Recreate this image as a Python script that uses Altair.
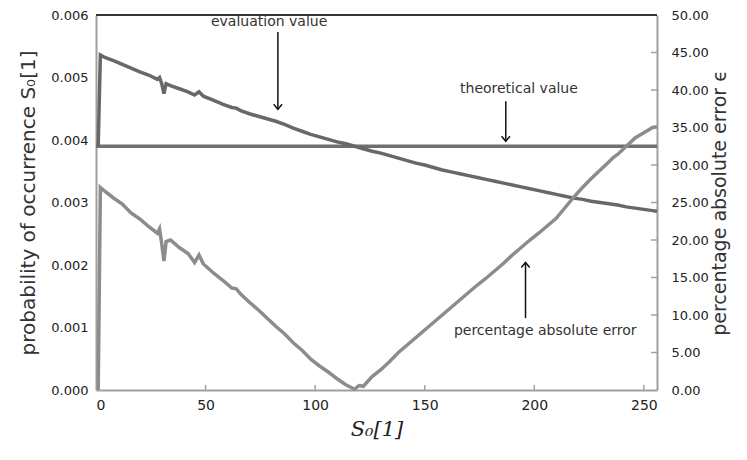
import altair as alt
import pandas as pd

# ---- data ----
eval_x = [1, 2, 4, 8, 12, 16, 20, 24, 28, 29, 30, 31, 32, 34, 38, 42, 45, 47, 49, 54, 58, 62, 64, 66,
          70, 74, 78, 82, 86, 90, 94, 98, 102, 106, 110, 114, 118, 122, 126, 130, 134, 138, 142, 146,
          150, 154, 158, 162, 166, 170, 174, 178, 182, 186, 190, 194, 198, 202, 206, 210, 214, 218,
          222, 226, 230, 234, 238, 242, 246, 250, 254, 256]
eval_v = [0.00390, 0.00536, 0.00532, 0.00527, 0.00521, 0.00515, 0.00509, 0.00504, 0.00497, 0.00500,
          0.00490, 0.00474, 0.00490, 0.00487, 0.00482, 0.00477, 0.00472, 0.00477, 0.00470, 0.00463,
          0.00457, 0.00452, 0.00451, 0.00447, 0.00442, 0.00438, 0.00434, 0.00430, 0.00425, 0.00419,
          0.00414, 0.00409, 0.00405, 0.00401, 0.00397, 0.00394, 0.00390, 0.00386, 0.00382, 0.00379,
          0.00375, 0.00371, 0.00367, 0.00363, 0.00360, 0.00356, 0.00352, 0.00349, 0.00346, 0.00343,
          0.00340, 0.00337, 0.00334, 0.00331, 0.00328, 0.00325, 0.00322, 0.00319, 0.00316, 0.00313,
          0.00310, 0.00307, 0.00305, 0.00302, 0.00300, 0.00298, 0.00296, 0.00293, 0.00291, 0.00289,
          0.00287, 0.00286]

err_x = [1, 2, 4, 8, 12, 16, 20, 24, 28, 29, 30, 31, 32, 34, 38, 42, 45, 47, 49, 54, 58, 62, 64, 66,
         70, 74, 78, 82, 86, 90, 94, 98, 102, 106, 110, 114, 118, 120, 122, 126, 130, 134, 138, 142,
         146, 150, 154, 158, 162, 166, 170, 174, 178, 182, 186, 190, 194, 198, 202, 206, 210, 214,
         218, 222, 226, 230, 234, 236, 238, 242, 246, 250, 254, 256]
err_v = [0.0, 27.0, 26.5, 25.6, 24.8, 23.6, 22.8, 21.8, 20.9, 21.5, 19.5, 17.2, 19.8, 20.0, 19.0, 18.2,
         17.0, 18.0, 16.8, 15.5, 14.6, 13.6, 13.5, 12.8, 11.7, 10.7, 9.6, 8.5, 7.5, 6.3, 5.3, 4.1, 3.2,
         2.4, 1.5, 0.7, 0.1, 0.6, 0.5, 1.8, 2.7, 3.8, 5.0, 6.0, 7.0, 8.0, 9.0, 10.0, 11.0, 12.0, 13.0,
         14.0, 14.9, 15.9, 16.9, 18.0, 19.0, 20.0, 20.9, 21.9, 22.9, 24.3, 25.7, 27.0, 28.2, 29.3, 30.4,
         31.0, 31.4, 32.5, 33.6, 34.3, 35.0, 35.1]

theo_x = [0, 256]
theo_v = [0.0039, 0.0039]

ann_text = ["evaluation value", "theoretical value", "percentage absolute error"]
ann_tx = [79, 193, 205]
ann_ty = [0.00589, 0.00482, 0.00094]
arrow_x = [83, 187, 196]
arrow_from = [0.00573, 0.00462, 0.00115]
arrow_to = [0.00449, 0.00398, 0.00204]
arrow_dir = ["down", "down", "up"]

x_ticks = [0, 50, 100, 150, 200, 250]
left_ticks = [0.000, 0.001, 0.002, 0.003, 0.004, 0.005, 0.006]
right_ticks = [0, 5, 10, 15, 20, 25, 30, 35, 40, 45, 50]

FONT = "DejaVu Sans"
W, H = 561, 375

eval_df = pd.DataFrame({"x": eval_x, "v": eval_v})
err_df = pd.DataFrame({"x": err_x, "e": err_v})
theo_df = pd.DataFrame({"x": theo_x, "v": theo_v})
top_df = pd.DataFrame({"x": [0], "x2": [256], "v": [0.006]})
txt_df = pd.DataFrame({"label": ann_text, "x": ann_tx, "v": ann_ty})
arr_df = pd.DataFrame({"x": arrow_x, "v": arrow_to, "v2": arrow_from, "dir": arrow_dir})
xt_df = pd.DataFrame({"x": x_ticks[1:]})
rt_df = pd.DataFrame({"e": right_ticks[1:-1]})

x_enc = alt.X("x:Q", scale=alt.Scale(domain=[0, 256], nice=False, zero=False),
              axis=alt.Axis(values=x_ticks, title="S₀[1]", titleFontSize=21, titleFont="DejaVu Serif",
                            titleFontStyle="italic", titleFontWeight="normal", titleColor="#222",
                            titlePadding=6, labelFontSize=14, labelFont=FONT, labelColor="#222",
                            labelPadding=8, ticks=False, domainColor="#a0a0a0", domainWidth=2,
                            grid=False))
y_left = alt.Y("v:Q", scale=alt.Scale(domain=[0, 0.006], nice=False),
               axis=alt.Axis(values=left_ticks, format=".3f", title="probability of occurrence S₀[1]",
                             titleFontSize=20, titleFont=FONT, titleFontWeight="normal",
                             titleColor="#333", titlePadding=12, labelFontSize=13, labelFont=FONT,
                             labelColor="#222", labelPadding=8, ticks=False, domainColor="#a0a0a0",
                             domainWidth=2, grid=False))
y_right = alt.Y("e:Q", scale=alt.Scale(domain=[0, 50], nice=False),
                axis=alt.Axis(orient="right", values=right_ticks, format=".2f",
                              title="percentage absolute error ϵ", titleFontSize=19, titleFont=FONT,
                              titleFontWeight="normal", titleColor="#333", titlePadding=2,
                              titleAngle=270, titleBaseline="top",
                              labelFontSize=13, labelFont=FONT, labelColor="#222", labelPadding=14,
                              ticks=False, domainColor="#a0a0a0", domainWidth=2, grid=False))

eval_line = alt.Chart(eval_df).mark_line(color="#686868", strokeWidth=3.5).encode(x=x_enc, y=y_left)
theo_line = alt.Chart(theo_df).mark_line(color="#707070", strokeWidth=3.5).encode(x=x_enc, y=y_left)
top_rule = alt.Chart(top_df).mark_rule(color="#333333", strokeWidth=2).encode(x=x_enc, x2="x2:Q", y=y_left)
texts = alt.Chart(txt_df).mark_text(font=FONT, fontSize=14, color="#333").encode(
    x=x_enc, y=y_left, text="label:N")
arr_lines = alt.Chart(arr_df).mark_rule(color="#111", strokeWidth=1.5).encode(x=x_enc, y=y_left, y2="v2:Q")
heads_down = alt.Chart(arr_df).transform_filter(alt.datum.dir == "down").mark_point(
    shape="M-1,-1.2L0,0L1,-1.2", filled=False, color="#111", strokeWidth=1.5, size=70, opacity=1
).encode(x=x_enc, y=y_left)
heads_up = alt.Chart(arr_df).transform_filter(alt.datum.dir == "up").mark_point(
    shape="M-1,1.2L0,0L1,1.2", filled=False, color="#111", strokeWidth=1.5, size=70, opacity=1
).encode(x=x_enc, y=y_left)
x_inner_ticks = alt.Chart(xt_df).mark_rule(color="#a0a0a0", strokeWidth=1.5).encode(
    x=x_enc, y=alt.value(H), y2=alt.value(H - 5))

left = alt.layer(top_rule, x_inner_ticks, theo_line, eval_line, texts, arr_lines, heads_down, heads_up)

err_line = alt.Chart(err_df).mark_line(color="#8c8c8c", strokeWidth=3.5).encode(x=x_enc, y=y_right)
r_inner_ticks = alt.Chart(rt_df).mark_rule(color="#a0a0a0", strokeWidth=1.5).encode(
    y=y_right, x=alt.value(W - 6), x2=alt.value(W))

right = alt.layer(r_inner_ticks, err_line)

chart = alt.layer(left, right).resolve_scale(y="independent").properties(
    width=W, height=H,
    autosize=alt.AutoSizeParams(type="none"),
    padding={"left": 88, "top": 7, "right": 82, "bottom": 62},
).configure_view(stroke=None)

chart.save("out.html", embed_options={"renderer": "svg", "actions": False})
